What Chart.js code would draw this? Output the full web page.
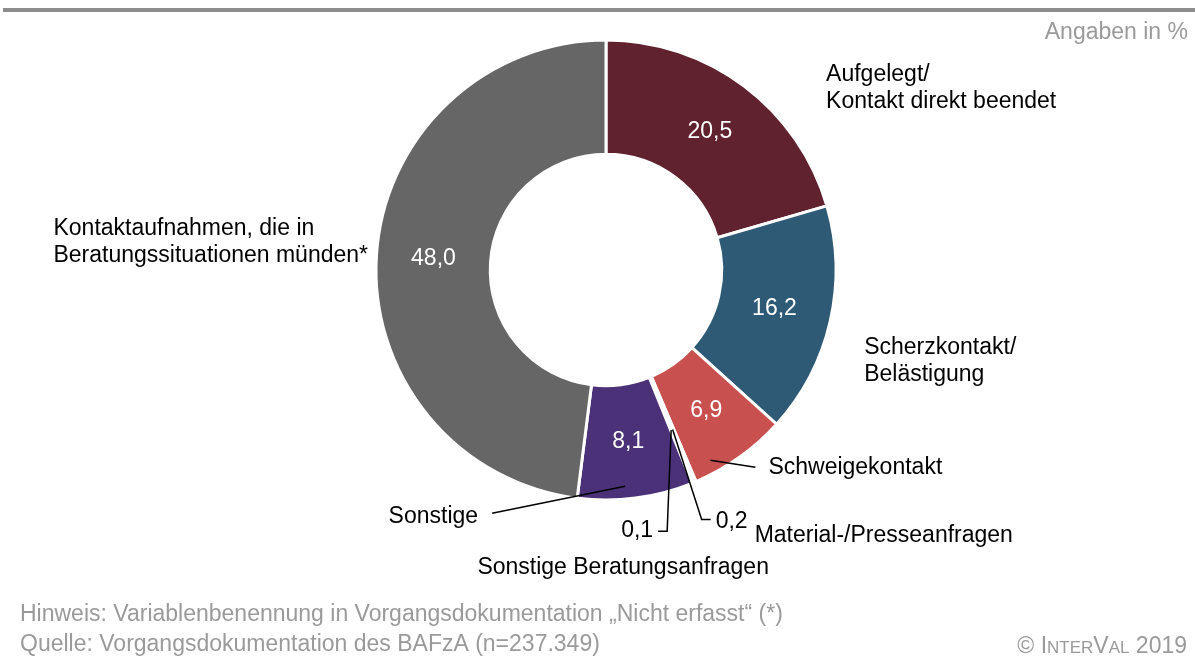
<!DOCTYPE html>
<html>
<head>
<meta charset="utf-8">
<script src="https://cdn.jsdelivr.net/npm/chart.js@4.4.0/dist/chart.umd.min.js"></script>
<style>
  body { margin: 0; background: #fff; }
  #wrap { width: 1195px; height: 657px; position: relative; }
</style>
</head>
<body>
<div id="wrap"><canvas id="chart"></canvas></div>
<script>
// Daten (Angaben in %)
const categories = [
    'Aufgelegt/\nKontakt direkt beendet',
    'Scherzkontakt/\nBelästigung',
    'Schweigekontakt',
    'Material-/Presseanfragen',
    'Sonstige Beratungsanfragen',
    'Sonstige',
    'Kontaktaufnahmen, die in\nBeratungssituationen münden*'
];
const shares = [20.5, 16.2, 6.9, 0.2, 0.1, 8.1, 48.0];
const sliceColors = ['#5F222E', '#2F5A75', '#C8504E', '#d9d9d9', '#d9d9d9', '#4B3177', '#666666'];

const noteText = 'Hinweis: Variablenbenennung in Vorgangsdokumentation „Nicht erfasst“ (*)';
const sourceText = 'Quelle: Vorgangsdokumentation des BAFzA (n=237.349)';
const unitText = 'Angaben in %';

const FONT = '"Liberation Sans", Arial, sans-serif';
const fmt = v => v.toFixed(1).replace('.', ',');

// Beschriftungen rund um den Ring (relativ zum jeweiligen Segment)
const callouts = [
    { frac: 0.5, r: 'outer', text: { dx: 82, dy: -11, align: 'left' } },
    { frac: 0.5, r: 'outer', text: { dx: 34, dy: 26, align: 'left' } },
    { frac: 0.77, r: 217, line: [[45, 7]], text: { dx: 58, dy: 7, align: 'left' } },
    { frac: 0.5, r: 'mid', line: [[29, 90], [38, 90]], value: { dx: 43, dy: 92, align: 'left' }, text: { dx: 82, dy: 106, align: 'left' } },
    { frac: 0.5, r: 'mid', line: [[-4, 101], [-13, 101]], value: { dx: -18, dy: 101, align: 'right' }, text: { dx: -48, dy: 138, align: 'center' } },
    { frac: 0.58, r: 217, line: [[-133, 27]], text: { dx: -147, dy: 30, align: 'right' } },
    { frac: 0.5, r: 'outer', text: { dx: -323, dy: -27, align: 'left' } }
];

const labelPlugin = {
    id: 'labels',
    beforeDraw(chart) {
        const ctx = chart.ctx;
        ctx.save();
        ctx.fillStyle = '#8c8c8c';
        ctx.fillRect(3, 8, chart.width - 3, 4);
        ctx.restore();
    },
    afterDatasetsDraw(chart) {
        const ctx = chart.ctx;
        const arcs = chart.getDatasetMeta(0).data;
        const at = (el, frac, r) => {
            const a = el.startAngle + frac * (el.endAngle - el.startAngle);
            return { x: el.x + Math.cos(a) * r, y: el.y + Math.sin(a) * r };
        };
        ctx.save();
        ctx.font = '23px ' + FONT;
        ctx.textBaseline = 'middle';

        // Werte im Ring
        ctx.fillStyle = '#ffffff';
        ctx.textAlign = 'center';
        arcs.forEach((el, i) => {
            if (shares[i] < 1) return;
            const p = el.tooltipPosition();
            ctx.fillText(fmt(shares[i]), p.x, p.y);
        });

        // Kategorien außen
        ctx.fillStyle = '#000000';
        ctx.strokeStyle = '#000000';
        ctx.lineWidth = 1.5;
        callouts.forEach((c, i) => {
            const el = arcs[i];
            const r = c.r === 'outer' ? el.outerRadius : c.r === 'mid' ? (el.innerRadius + el.outerRadius) / 2 : c.r;
            const p = at(el, c.frac, r);
            if (c.line) {
                ctx.beginPath();
                ctx.moveTo(p.x, p.y);
                c.line.forEach(([dx, dy]) => ctx.lineTo(p.x + dx, p.y + dy));
                ctx.stroke();
            }
            if (c.value) {
                ctx.textAlign = c.value.align;
                ctx.fillText(fmt(shares[i]), p.x + c.value.dx, p.y + c.value.dy);
            }
            ctx.textAlign = c.text.align;
            categories[i].split('\n').forEach((line, k) => {
                ctx.fillText(line, p.x + c.text.dx, p.y + c.text.dy + k * 27);
            });
        });

        // Rahmentexte
        ctx.fillStyle = '#9a9a9a';
        ctx.textAlign = 'right';
        ctx.fillText(unitText, 1188, 33);
        ctx.textAlign = 'left';
        ctx.fillText(noteText, 20, 615);
        ctx.fillText(sourceText, 20, 645);

        // © INTERVAL 2019 in Kapitälchen
        const parts = [['© I', 23], ['NTER', 17], ['V', 23], ['AL', 17], [' 2019', 23]];
        let total = 0;
        parts.forEach(([t, s]) => { ctx.font = s + 'px ' + FONT; total += ctx.measureText(t).width; });
        let x = 1187 - total;
        ctx.textBaseline = 'alphabetic';
        parts.forEach(([t, s]) => {
            ctx.font = s + 'px ' + FONT;
            ctx.fillText(t, x, 653);
            x += ctx.measureText(t).width;
        });
        ctx.restore();
    }
};

new Chart(document.getElementById('chart'), {
    type: 'doughnut',
    data: {
        labels: categories,
        datasets: [{
            data: shares,
            backgroundColor: sliceColors,
            borderColor: '#ffffff',
            borderWidth: 3
        }]
    },
    options: {
        responsive: true,
        maintainAspectRatio: false,
        animation: false,
        radius: 230,
        cutout: 115,
        layout: { padding: { left: 376, right: 359, top: 40, bottom: 157 } },
        plugins: { legend: { display: false }, tooltip: { enabled: false } }
    },
    plugins: [labelPlugin]
});
</script>
</body>
</html>
